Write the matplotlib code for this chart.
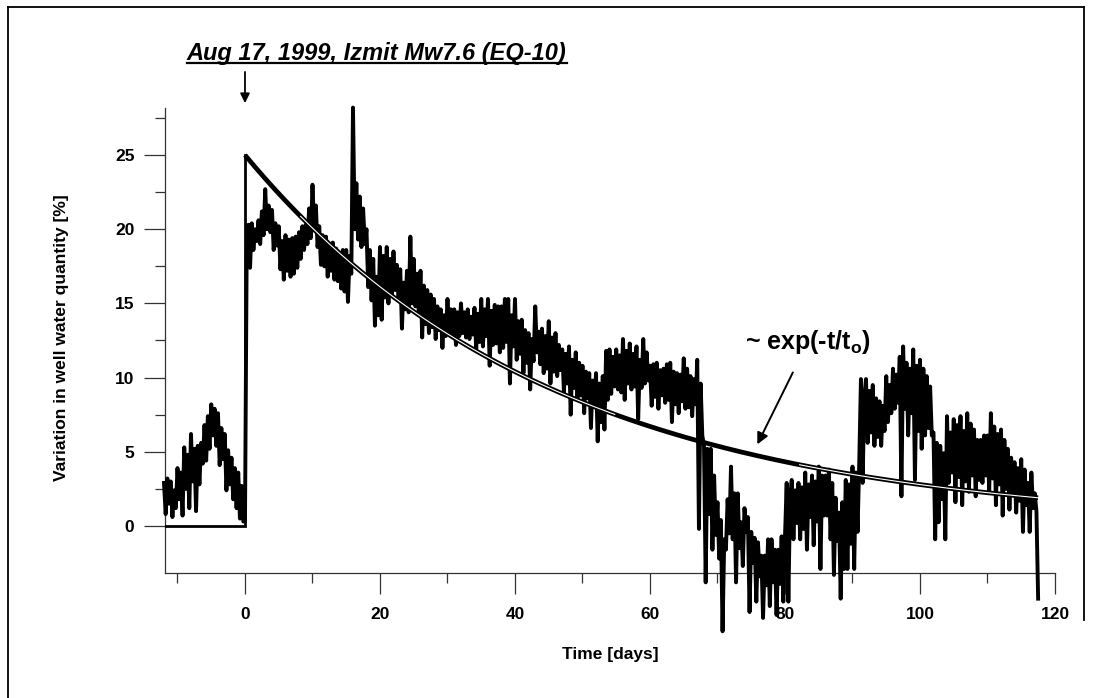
import numpy as np
import matplotlib
matplotlib.use("Agg")
import matplotlib.pyplot as plt
from matplotlib.lines import Line2D

plt.rcParams['font.family'] = ['Liberation Sans', 'DejaVu Sans']
plt.rcParams['mathtext.fontset'] = 'custom'
plt.rcParams['mathtext.rm'] = 'Liberation Sans:bold'
plt.rcParams['mathtext.bf'] = 'Liberation Sans:bold'

# ---------------- data ----------------
t_start = -12.0     # first sample [days]
dt = 0.25           # sampling step [days]

# four samples per day, day -12 .. -1
pre_event = [
    2.9, 0.8, 3.2, 1.5,   3.0, 0.6, 2.4, 1.2,   3.9, 1.8, 3.6, 0.7,
    5.3, 2.5, 4.8, 1.2,   6.2, 3.0, 5.2, 1.0,   5.4, 2.8, 5.6, 4.2,
    6.8, 4.4, 7.4, 5.2,   8.2, 6.1, 7.9, 5.4,   7.6, 4.1, 6.6, 4.5,
    6.2, 2.4, 5.1, 2.8,   4.6, 1.8, 3.9, 1.2,   3.6, 0.5, 2.7, 0.3,
]
# four samples per day, day 0 .. 117.5
post_event = [
    0.3, 18.2, 20.3, 17.4,   20.4, 18.6, 20.0, 19.2,   20.6, 19.0, 21.2, 19.6,   # 0-2
    22.7, 20.0, 21.6, 19.8,  21.3, 18.6, 20.4, 18.9,   20.2, 17.3, 19.2, 16.6,   # 3-5
    19.6, 17.2, 19.3, 16.8,  19.4, 17.0, 19.5, 17.4,   19.8, 18.0, 20.2, 18.6,   # 6-8
    20.3, 19.0, 21.4, 19.4,  23.0, 20.0, 21.6, 18.8,   20.2, 17.6, 19.6, 17.5,   # 9-11
    19.5, 16.8, 19.0, 17.2,  19.1, 16.6, 18.7, 16.5,   18.4, 16.0, 18.6, 15.8,   # 12-14
    18.6, 15.1, 18.2, 17.0,  28.2, 20.0, 23.1, 19.3,   22.2, 18.8, 21.4, 19.0,   # 15-17
    20.0, 16.1, 18.6, 15.2,  18.0, 13.5, 16.8, 14.2,   18.8, 13.9, 18.2, 15.4,   # 18-20
    18.8, 15.0, 18.0, 15.6,  18.5, 15.9, 17.6, 15.2,   17.3, 13.3, 16.4, 14.6,   # 21-23
    17.2, 14.4, 19.5, 15.0,  18.0, 14.8, 17.0, 14.2,   17.2, 12.7, 16.2, 13.6,   # 24-26
    15.9, 13.0, 15.6, 13.4,  15.3, 12.6, 14.8, 13.2,   14.6, 12.0, 14.2, 12.8,   # 27-29
    15.3, 13.0, 14.6, 12.9,  14.6, 12.2, 14.4, 12.8,   15.0, 13.0, 14.4, 12.7,   # 30-32
    14.6, 12.6, 14.1, 12.9,  14.7, 11.9, 14.3, 12.4,   15.3, 12.1, 14.6, 12.8,   # 33-35
    15.3, 10.8, 14.5, 12.2,  14.9, 12.3, 14.8, 11.7,   14.8, 12.0, 15.3, 12.4,   # 36-38
    15.3, 9.6, 14.2, 12.1,   15.3, 11.2, 13.8, 11.6,   13.9, 10.3, 13.2, 11.0,   # 39-41
    13.0, 9.2, 12.6, 11.1,   14.8, 11.7, 13.1, 10.9,   13.3, 10.3, 12.8, 10.6,   # 42-44
    13.8, 9.6, 12.7, 10.4,   13.0, 10.1, 12.2, 10.5,   11.9, 9.0, 11.6, 9.6,     # 45-47
    12.1, 7.5, 11.2, 9.3,    11.7, 8.5, 11.0, 8.8,     10.8, 7.6, 10.4, 8.6,     # 48-50
    10.3, 6.6, 9.8, 8.0,     10.3, 5.7, 9.6, 7.0,      10.1, 6.5, 11.8, 8.5,     # 51-53
    11.9, 8.9, 11.4, 9.4,    11.9, 9.2, 11.5, 9.0,     12.6, 8.5, 11.8, 9.6,     # 54-56
    12.3, 9.2, 11.6, 9.4,    12.1, 7.2, 11.2, 9.3,     12.6, 9.6, 11.7, 9.8,     # 57-59
    10.8, 8.1, 10.9, 8.7,    11.0, 7.9, 10.5, 8.8,     10.6, 8.3, 10.9, 8.5,     # 60-62
    11.0, 7.0, 10.4, 8.2,    10.3, 7.6, 10.2, 8.4,     11.3, 7.9, 10.6, 8.0,     # 63-65
    10.1, 7.4, 9.9, 8.2,     11.2, -0.2, 9.6, 6.1,     5.4, -3.8, 5.2, 0.8,      # 66-68
    5.2, -1.6, 3.4, -0.6,    1.6, -2.2, 0.4, -7.1,     -0.9, -1.6, 1.8, -0.5,    # 69-71
    4.0, -0.9, 2.2, -3.8,    2.2, -1.5, 0.25, -2.7,    1.2, -0.4, 0.6, -5.8,     # 72-74
    -0.4, -2.5, -0.8, -5.1,  -1.1, -3.4, -2.0, -6.2,   -2.0, -4.0, -0.9, -5.4,   # 75-77
    -0.9, -3.8, -1.6, -6.0,  -1.6, -3.9, -0.7, -5.1,   -0.7, 2.9, -5.1, 1.8,     # 78-80
    3.1, -0.9, 2.4, 0.2,     2.9, -0.9, 2.6, -0.2,     3.6, -1.6, 2.8, 0.6,      # 81-83
    3.4, -1.3, 3.0, 0.3,     4.0, -2.9, 3.4, 0.7,      3.4, 0.7, 3.8, -0.9,      # 84-86
    2.9, -3.3, 1.9, -1.0,    0.9, -4.9, 1.6, -2.9,     3.1, -2.9, 2.8, -1.2,     # 87-89
    4.0, -2.9, 3.6, -0.4,    4.3, 9.9, 2.9, 8.7,       9.9, 5.6, 9.1, 6.3,       # 90-92
    9.5, 5.4, 8.6, 6.0,      8.4, 5.4, 8.1, 6.4,       10.1, 7.0, 9.5, 7.6,      # 93-95
    10.6, 7.9, 10.2, 8.3,    11.4, 2.0, 12.1, 7.9,     11.0, 6.1, 10.6, 7.6,     # 96-98
    11.9, 3.1, 10.8, 6.4,    11.2, 5.2, 10.6, 6.1,     10.1, 6.6, 9.4, 6.1,      # 99-101
    6.3, -0.9, 5.6, 0.25,    5.4, 1.8, 4.9, -0.9,      7.4, 2.9, 6.3, 3.6,       # 102-104
    7.2, 1.6, 6.8, 3.3,      7.4, 1.4, 6.4, 3.0,       7.6, 2.3, 6.9, 3.4,       # 105-107
    6.5, 2.0, 5.8, 3.1,      5.8, 2.9, 6.1, 3.4,       6.1, 2.3, 7.6, 3.2,       # 108-110
    6.7, 1.4, 6.2, 2.8,      6.5, 0.7, 5.8, 2.5,       5.2, 1.1, 4.6, 2.2,       # 111-113
    4.3, 0.9, 3.9, 1.7,      4.5, -0.4, 3.8, 1.4,      2.9, -0.4, 3.6, 1.2,      # 114-116
    2.2, 1.0, -4.9,                                                             # 117-117.5
]

# step + exponential relaxation model
step_days = [-12.0, 0.0, 0.0]
step_vals = [0.0, 0.0, 25.0]
model_amp = 25.0     # [%]
model_tau = 45.6     # t_o [days]
model_end = 117.5    # [days]

x_ticks = [0, 20, 40, 60, 80, 100, 120]
y_ticks = [0, 5, 10, 15, 20, 25]

title_text = "Aug 17, 1999, Izmit Mw7.6 (EQ-10)"
fit_text = r"~ exp(-t/t$_{\mathbf{o}}$)"
x_label = "Time [days]"
y_label = "Variation in well water quantity [%]"

# ---------------- figure ----------------
W, H = 1093, 698
fig = plt.figure(figsize=(W / 100, H / 100), dpi=100)
ax = fig.add_axes([165 / W, 1 - 572.7 / H, 890 / W, (572.7 - 108) / H])

values = np.array(pre_event + post_event)
days = t_start + dt * np.arange(len(values))
ax.plot(days, values, color='black', lw=2.8, clip_on=False, zorder=3)

# model
tm = np.linspace(0.0, model_end, 400)
ym = model_amp * np.exp(-tm / model_tau)
ax.plot(step_days, step_vals, color='black', lw=2.0, zorder=4,
        solid_joinstyle='miter')
ax.plot(tm, ym, color='black', lw=3.4, zorder=4, solid_capstyle='butt')
mask = (tm > 8) & ((tm < 55) | (tm > 82))
ax.plot(np.where(mask, tm, np.nan), np.where(mask, ym, np.nan),
        color='white', lw=0.8, zorder=5)

ax.set_xlim(-11.85, 120)
ax.set_ylim(-3.15, 28.17)

for s in ['top', 'right']:
    ax.spines[s].set_visible(False)
for s in ['left', 'bottom']:
    ax.spines[s].set_color('#333333')
    ax.spines[s].set_linewidth(0.9)

ax.set_xticks(x_ticks)
ax.set_yticks(y_ticks)
ax.set_xticks(np.arange(-10, 121, 10), minor=True)
ax.set_yticks(np.arange(0, 28.1, 2.5), minor=True)
ax.tick_params(which='major', length=15, width=0.9, color='#333333',
               labelsize=12.5, direction='out')
ax.tick_params(which='minor', length=7, width=0.9, color='#333333',
               direction='out')
ax.tick_params(axis='x', which='major', pad=10)
ax.tick_params(axis='y', which='major', pad=7)
for lab in ax.get_xticklabels() + ax.get_yticklabels():
    lab.set_fontweight('bold')

fig.text(610 / W, 1 - 655 / H, x_label, fontsize=12.5, fontweight='bold',
         ha='center', va='center')
fig.text(62 / W, 1 - 338 / H, y_label, fontsize=12.5, fontweight='bold',
         ha='center', va='center', rotation=90)

# fit annotation
ax.annotate(fit_text, xy=(75.9, 5.5), xytext=(83.4, 12.4),
            fontsize=18, fontweight='bold', ha='center', va='center',
            arrowprops=dict(arrowstyle='-|>', color='black', lw=1.4,
                            mutation_scale=17, shrinkA=11, shrinkB=0),
            zorder=6)

# event arrow above the axes
ax.annotate('', xy=(0, 28.5), xytext=(0, 30.6), annotation_clip=False,
            arrowprops=dict(arrowstyle='-|>', color='black', lw=1.3,
                            mutation_scale=14, shrinkA=0, shrinkB=0))

# title (underlined)
title_base = H - 60
title = fig.text(376.7 / W, title_base / H, title_text, fontsize=17,
                 fontweight='bold', fontstyle='italic', ha='center',
                 va='baseline')
fig.canvas.draw()
bb = title.get_window_extent(fig.canvas.get_renderer())
yu = (title_base - 2.5) / H
fig.add_artist(Line2D([bb.x0 / W, bb.x1 / W], [yu, yu], color='black',
                      lw=1.6, transform=fig.transFigure))

# frame lines around the picture
fx0, fx1, fy1 = 8 / W, 1084 / W, 1 - 7 / H
fig.add_artist(Line2D([fx0, fx0], [0, fy1], color='black', lw=1.3,
                      transform=fig.transFigure))
fig.add_artist(Line2D([fx0, fx1], [fy1, fy1], color='black', lw=1.3,
                      transform=fig.transFigure))
fig.add_artist(Line2D([fx1, fx1], [fy1, 1 - 620 / H], color='black', lw=1.3,
                      transform=fig.transFigure))

fig.savefig("out.png", dpi=100)
